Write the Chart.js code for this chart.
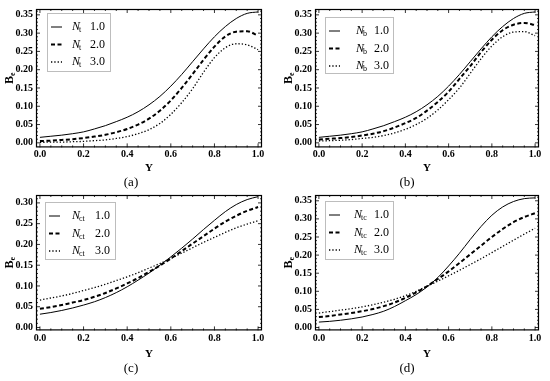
<!DOCTYPE html>
<html>
<head>
<meta charset="utf-8">
<script src="https://cdn.jsdelivr.net/npm/chart.js@4.4.1/dist/chart.umd.min.js"></script>
<style>
  html, body { margin: 0; padding: 0; background: #fff; }
  #fig { position: relative; width: 550px; height: 381px; overflow: hidden; background: #fff; }
  #fig canvas { position: absolute; }
</style>
</head>
<body>
<div id="fig">
  <canvas id="chartA" width="275" height="190" style="left:0;top:0"></canvas>
  <canvas id="chartB" width="275" height="190" style="left:275px;top:0"></canvas>
  <canvas id="chartC" width="275" height="190" style="left:0;top:186px"></canvas>
  <canvas id="chartD" width="275" height="190" style="left:275px;top:186px"></canvas>
</div>
<script>
// x positions (Y) shared by every curve
const yPositions = [0, 0.05, 0.1, 0.15, 0.2, 0.25, 0.3, 0.35, 0.4, 0.45, 0.5,
                    0.55, 0.6, 0.65, 0.7, 0.75, 0.8, 0.85, 0.9, 0.95, 1.0];
const xTickValues = [0, 0.2, 0.4, 0.6, 0.8, 1.0];
const beTicks35 = [0, 0.05, 0.10, 0.15, 0.20, 0.25, 0.30, 0.35];
const beTicks30 = [0, 0.05, 0.10, 0.15, 0.20, 0.25, 0.30];
const levels = ['1.0', '2.0', '3.0'];
const captions = ['(a)', '(b)', '(c)', '(d)'];

// (a) Nt
const ntOne   = [0.015, 0.018, 0.021, 0.025, 0.030, 0.038, 0.047, 0.058, 0.070, 0.085, 0.104,
                 0.127, 0.155, 0.187, 0.222, 0.257, 0.290, 0.318, 0.340, 0.354, 0.358];
const ntTwo   = [0.005, 0.006, 0.008, 0.010, 0.013, 0.017, 0.022, 0.029, 0.038, 0.050, 0.066,
                 0.088, 0.116, 0.150, 0.188, 0.227, 0.263, 0.291, 0.304, 0.305, 0.293];
const ntThree = [0.001, 0.002, 0.002, 0.003, 0.004, 0.006, 0.008, 0.012, 0.017, 0.025, 0.036,
                 0.053, 0.078, 0.110, 0.148, 0.193, 0.233, 0.260, 0.271, 0.268, 0.255];

// (b) Nb
const nbOne   = [0.015, 0.018, 0.021, 0.025, 0.030, 0.038, 0.047, 0.058, 0.070, 0.085, 0.104,
                 0.127, 0.155, 0.187, 0.222, 0.257, 0.290, 0.318, 0.340, 0.354, 0.358];
const nbTwo   = [0.009, 0.011, 0.013, 0.016, 0.020, 0.025, 0.032, 0.042, 0.054, 0.068, 0.088,
                 0.112, 0.140, 0.175, 0.210, 0.248, 0.282, 0.308, 0.323, 0.328, 0.322];
const nbThree = [0.005, 0.006, 0.007, 0.009, 0.012, 0.015, 0.020, 0.027, 0.037, 0.050, 0.067,
                 0.090, 0.118, 0.150, 0.190, 0.230, 0.265, 0.290, 0.303, 0.304, 0.293];

// (c) Nct
const nctOne   = [0.032, 0.036, 0.041, 0.047, 0.054, 0.062, 0.072, 0.084, 0.098, 0.114, 0.131,
                  0.150, 0.170, 0.191, 0.213, 0.236, 0.258, 0.279, 0.296, 0.308, 0.315];
const nctTwo   = [0.045, 0.049, 0.054, 0.060, 0.066, 0.074, 0.083, 0.094, 0.106, 0.119, 0.134,
                  0.149, 0.166, 0.184, 0.202, 0.220, 0.238, 0.255, 0.269, 0.281, 0.290];
const nctThree = [0.066, 0.071, 0.076, 0.082, 0.089, 0.096, 0.104, 0.113, 0.122, 0.132, 0.143,
                  0.154, 0.166, 0.179, 0.192, 0.205, 0.217, 0.229, 0.240, 0.249, 0.257];

// (d) Ntc
const ntcOne   = [0.015, 0.017, 0.020, 0.024, 0.029, 0.036, 0.045, 0.058, 0.074, 0.091, 0.112,
                  0.138, 0.170, 0.205, 0.243, 0.279, 0.310, 0.333, 0.348, 0.356, 0.358];
const ntcTwo   = [0.029, 0.032, 0.036, 0.040, 0.045, 0.051, 0.059, 0.069, 0.082, 0.097, 0.114,
                  0.134, 0.155, 0.178, 0.202, 0.226, 0.250, 0.272, 0.291, 0.305, 0.316];
const ntcThree = [0.040, 0.044, 0.048, 0.052, 0.057, 0.063, 0.070, 0.078, 0.088, 0.100, 0.114,
                  0.128, 0.143, 0.158, 0.174, 0.190, 0.207, 0.224, 0.241, 0.258, 0.274];

const lineStyles = [
  { borderWidth: 1, borderDash: [] },
  { borderWidth: 2, borderDash: [4, 2.5] },
  { borderWidth: 1.3, borderDash: [1.3, 2] }
];

const serif = '"Liberation Serif", serif';

// black frame with inward ticks, like the original
const framePlugin = {
  id: 'frame',
  afterDraw(chart) {
    const { ctx, chartArea: a, scales: { x, y } } = chart;
    ctx.save();
    ctx.strokeStyle = '#000';
    ctx.lineWidth = 1.2;
    ctx.strokeRect(a.left + 0.5, a.top + 0.5, a.right - a.left - 1, a.bottom - a.top - 1);
    ctx.lineWidth = 0.8;
    ctx.beginPath();
    for (let i = 0; i <= 20; i++) {
      const px = x.getPixelForValue(i * 0.05);
      const len = i % 4 === 0 ? 4 : 2;
      ctx.moveTo(px, a.bottom); ctx.lineTo(px, a.bottom - len);
      ctx.moveTo(px, a.top); ctx.lineTo(px, a.top + len);
    }
    for (let i = 0; i * 0.01 <= y.max; i++) {
      const py = y.getPixelForValue(i * 0.01);
      const len = i % 5 === 0 ? 4 : 2;
      ctx.moveTo(a.left, py); ctx.lineTo(a.left + len, py);
      ctx.moveTo(a.right, py); ctx.lineTo(a.right - len, py);
    }
    ctx.stroke();
    ctx.restore();
  }
};

// rotated B with subscript e
const beTitlePlugin = {
  id: 'beTitle',
  afterDraw(chart, args, opts) {
    const { ctx, chartArea: a } = chart;
    ctx.save();
    ctx.translate(opts.x, (a.top + a.bottom) / 2);
    ctx.rotate(-Math.PI / 2);
    ctx.fillStyle = '#000';
    ctx.textBaseline = 'middle';
    ctx.textAlign = 'left';
    ctx.font = 'bold 12px ' + serif;
    const bw = ctx.measureText('B').width;
    ctx.font = 'bold 8px ' + serif;
    const ew = ctx.measureText('e').width;
    const start = -(bw + ew) / 2;
    ctx.font = 'bold 12px ' + serif;
    ctx.fillText('B', start, 0);
    ctx.font = 'bold 8px ' + serif;
    ctx.fillText('e', start + bw, 3);
    ctx.restore();
  }
};

// legend box: sample line, N with subscript, parameter value
const legendPlugin = {
  id: 'legendBox',
  afterDraw(chart, args, opts) {
    const { ctx, chartArea: a } = chart;
    const x0 = a.left + opts.dx, y0 = a.top + opts.dy;
    ctx.save();
    ctx.fillStyle = '#fff';
    ctx.fillRect(x0, y0, opts.w, opts.h);
    ctx.strokeStyle = '#bdbdbd';
    ctx.lineWidth = 1;
    ctx.strokeRect(x0 + 0.5, y0 + 0.5, opts.w, opts.h);
    chart.data.datasets.forEach((ds, i) => {
      const yy = y0 + 14 + i * 17.5;
      ctx.strokeStyle = '#000';
      ctx.lineWidth = ds.borderWidth;
      ctx.setLineDash(ds.borderDash);
      ctx.beginPath();
      ctx.moveTo(x0 + 4, yy);
      ctx.lineTo(x0 + 15, yy);
      ctx.stroke();
      ctx.setLineDash([]);
      ctx.fillStyle = '#000';
      ctx.textBaseline = 'middle';
      ctx.textAlign = 'left';
      ctx.font = 'italic 12px ' + serif;
      const nx = x0 + opts.nameX;
      ctx.fillText('N', nx, yy);
      const nw = ctx.measureText('N').width;
      ctx.font = '8px ' + serif;
      ctx.fillText(opts.sub, nx + nw - 1, yy + 3);
      ctx.font = '12px ' + serif;
      ctx.textAlign = 'right';
      ctx.fillText(levels[i], x0 + opts.valRight, yy);
    });
    ctx.restore();
  }
};

const panels = [
  { id: 'chartA', sub: 't', series: [ntOne, ntTwo, ntThree], yMin: -0.0125, yMax: 0.366, yTicks: beTicks35,
    axisW: 36, padRight: 13, xH: 27, xPad: 1,
    legend: { dx: 11, dy: 4, w: 63, h: 58, nameX: 25, valRight: 58 } },
  { id: 'chartB', sub: 'b', series: [nbOne, nbTwo, nbThree], yMin: -0.0125, yMax: 0.366, yTicks: beTicks35,
    axisW: 40, padRight: 11, xH: 27, xPad: 1,
    legend: { dx: 10, dy: 8, w: 68, h: 56, nameX: 31, valRight: 64 } },
  { id: 'chartC', sub: 'ct', series: [nctOne, nctTwo, nctThree], yMin: -0.007, yMax: 0.319, yTicks: beTicks30,
    axisW: 36, padRight: 13, xH: 30, xPad: 2,
    legend: { dx: 9, dy: 7, w: 70, h: 57, nameX: 27, valRight: 65 } },
  { id: 'chartD', sub: 'tc', series: [ntcOne, ntcTwo, ntcThree], yMin: -0.008, yMax: 0.366, yTicks: beTicks35,
    axisW: 40, padRight: 11, xH: 30, xPad: 2,
    legend: { dx: 10, dy: 6, w: 68, h: 58, nameX: 29, valRight: 64 } }
];

const tickFont = { family: serif, size: 10, weight: 'bold' };

panels.forEach((p, n) => {
  const ctx = document.getElementById(p.id).getContext('2d');
  new Chart(ctx, {
    type: 'line',
    data: {
      datasets: p.series.map((vals, i) => ({
        label: 'N' + p.sub + ' ' + levels[i],
        data: yPositions.map((y, k) => ({ x: y, y: vals[k] })),
        borderColor: '#000',
        borderWidth: lineStyles[i].borderWidth,
        borderDash: lineStyles[i].borderDash,
        pointRadius: 0,
        fill: false,
        cubicInterpolationMode: 'monotone'
      }))
    },
    options: {
      responsive: false,
      animation: false,
      layout: { padding: { top: 5, right: p.padRight, left: 0, bottom: 0 } },
      plugins: {
        legend: { display: false },
        tooltip: { enabled: false },
        title: {
          display: true, text: captions[n], position: 'bottom', color: '#000',
          padding: 0, font: { family: serif, size: 13, weight: 'normal', lineHeight: 1.2 }
        },
        legendBox: Object.assign({ sub: p.sub }, p.legend),
        beTitle: { x: p.axisW - 26 }
      },
      scales: {
        x: {
          type: 'linear',
          min: -0.018,
          max: 1.018,
          afterBuildTicks: s => { s.ticks = xTickValues.map(v => ({ value: v })); },
          afterFit: s => { s.height = p.xH; },
          grid: { display: false, drawTicks: false },
          border: { display: false },
          ticks: { color: '#000', font: tickFont, padding: p.xPad, maxRotation: 0,
                   callback: v => v.toFixed(1) },
          title: { display: true, text: 'Y', color: '#000', padding: { top: 0, bottom: 0 },
                   font: { family: serif, size: 11, weight: 'bold' } }
        },
        y: {
          min: p.yMin,
          max: p.yMax,
          afterBuildTicks: s => { s.ticks = p.yTicks.map(v => ({ value: v })); },
          afterFit: s => { s.width = p.axisW; },
          grid: { display: false, drawTicks: false },
          border: { display: false },
          ticks: { color: '#000', font: tickFont, padding: 3, callback: v => v.toFixed(2) }
        }
      }
    },
    plugins: [framePlugin, beTitlePlugin, legendPlugin]
  });
});
</script>
</body>
</html>
